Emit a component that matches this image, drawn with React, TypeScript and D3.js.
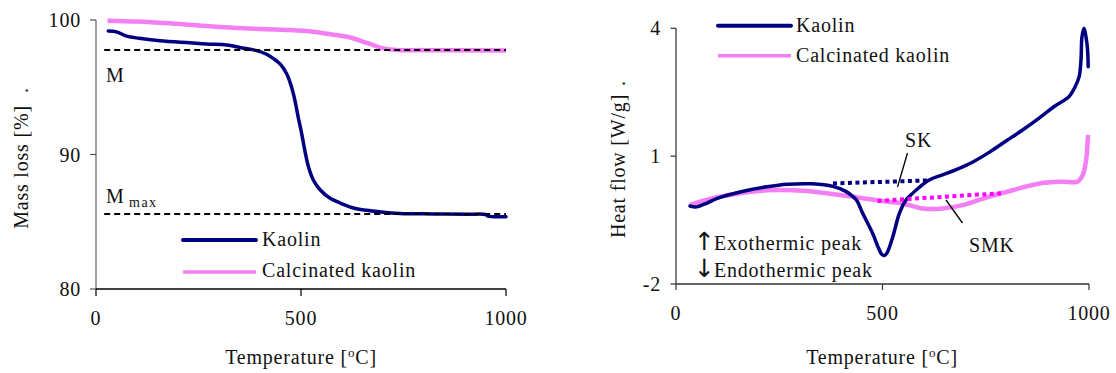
import React from 'react';
import * as d3 from 'd3';

// ---- ticks ----
const xTicks = [0, 500, 1000];
const massTicks = [80, 90, 100];
const heatTicks = [-2, 1, 4];

// ---- TGA (left) ----
const tgaKaolinTemp = [30, 50, 75, 105, 156, 229, 270, 319, 351, 392, 416, 432, 450, 465, 475, 485, 493, 502, 510, 518, 530, 546, 571, 603, 628, 660, 701, 741, 823, 904, 950, 956, 1000];
const tgaKaolinMass = [99.18, 99.12, 98.8, 98.64, 98.46, 98.3, 98.21, 98.14, 97.95, 97.72, 97.45, 97.15, 96.7, 96.0, 95.2, 94.05, 92.8, 91.5, 90.2, 89.1, 88.1, 87.4, 86.74, 86.3, 86.02, 85.85, 85.7, 85.62, 85.58, 85.55, 85.54, 85.42, 85.38];

const tgaCalcTemp = [28, 100, 180, 205, 270, 359, 473, 530, 579, 620, 660, 676, 693, 733, 800, 1000];
const tgaCalcMass = [99.95, 99.88, 99.75, 99.7, 99.55, 99.38, 99.26, 99.13, 98.9, 98.7, 98.3, 98.14, 97.95, 97.77, 97.76, 97.73];

const massRefNames = ['M', 'Mmax'];
const massRefValues = [97.77, 85.58];

// ---- DSC (right) ----
const dscKaolinTemp = [34, 50, 75, 100, 155, 220, 270, 330, 380, 410, 425, 437, 452, 476, 490, 498, 505, 512, 525, 541, 557, 570, 581, 613, 645, 680, 720, 760, 800, 840, 880, 915, 952, 965, 976, 980.6, 983, 988, 992.7, 996.5, 998];
const dscKaolinHeat = [-0.17, -0.19, -0.1, 0.01, 0.16, 0.28, 0.34, 0.35, 0.29, 0.18, 0.08, -0.03, -0.34, -0.81, -1.15, -1.3, -1.33, -1.25, -0.89, -0.34, -0.03, 0.1, 0.2, 0.44, 0.56, 0.69, 0.87, 1.1, 1.36, 1.62, 1.9, 2.16, 2.4, 2.6, 2.86, 3.26, 3.8, 4.0, 3.8, 3.5, 3.1];

const dscCalcTemp = [34, 58, 98, 155, 220, 284, 340, 397, 440, 484, 516, 549, 597, 646, 694, 759, 815, 880, 936, 972, 985, 993, 997, 998];
const dscCalcHeat = [-0.15, -0.07, 0.03, 0.13, 0.2, 0.2, 0.16, 0.09, 0.03, -0.03, -0.07, -0.11, -0.23, -0.23, -0.15, 0.05, 0.2, 0.36, 0.4, 0.4, 0.56, 0.91, 1.38, 1.5];

const skTemp = [380, 610];
const skHeat = [0.36, 0.43];
const smkTemp = [488, 787];
const smkHeat = [-0.05, 0.13];

const seriesNames = ['Kaolin', 'Calcinated kaolin'];

const NAVY = '#000080';
const PINK = '#f47ef4';
const MAGENTA = '#ff00ff';
const FONT = "'Liberation Serif', 'Times New Roman', serif";

function TempTitle({ x, y, style }: { x: number; y: number; style: any }) {
  return (
    <text x={x} y={y} textAnchor="middle" {...style}>
      <tspan>Temperature [</tspan>
      <tspan dy={-7} fontSize={13}>o</tspan>
      <tspan dy={7}>C]</tspan>
    </text>
  );
}

export default function App() {
  const xL = d3.scaleLinear().domain([0, 1000]).range([96, 506]);
  const yL = d3.scaleLinear().domain([80, 100]).range([289, 20]);
  const xR = d3.scaleLinear().domain([0, 1000]).range([676, 1089]);
  const yR = d3.scaleLinear().domain([-2, 4]).range([284, 28.3]);

  const curve = d3.curveCatmullRom.alpha(0.5);
  const lineL = d3.line<[number, number]>().x(d => xL(d[0])).y(d => yL(d[1])).curve(curve);
  const lineR = d3.line<[number, number]>().x(d => xR(d[0])).y(d => yR(d[1])).curve(curve);
  const straightR = d3.line<[number, number]>().x(d => xR(d[0])).y(d => yR(d[1]));

  const zip = (a: number[], b: number[]) => a.map((v, i) => [v, b[i]] as [number, number]);

  const txt = { fontFamily: FONT, fontSize: 20, letterSpacing: 0.8, fill: '#111' } as const;
  const arrowStyle = { fontFamily: "'DejaVu Sans', sans-serif", fontSize: 25 } as const;

  return (
    <svg width={1116} height={373} style={{ position: 'absolute', left: 0, top: 0, background: '#fff' }}>
      {/* ================= LEFT: TGA ================= */}
      <g>
        <line x1={96} x2={96} y1={yL(100)} y2={yL(80)} stroke="#808080" strokeWidth={1.5} />
        <line x1={96} x2={xL(1000)} y1={yL(80)} y2={yL(80)} stroke="#000" strokeWidth={1.5} />
        {massTicks.map(t => (
          <g key={'ml' + t}>
            <line x1={90} x2={96} y1={yL(t)} y2={yL(t)} stroke="#555" strokeWidth={1.2} />
            <text x={81} y={yL(t) + 7} textAnchor="end" {...txt}>{t}</text>
          </g>
        ))}
        {xTicks.map(t => (
          <g key={'xl' + t}>
            <line x1={xL(t)} x2={xL(t)} y1={289} y2={296} stroke="#000" strokeWidth={1.2} />
            <text x={xL(t)} y={325} textAnchor="middle" {...txt}>{t}</text>
          </g>
        ))}
        <TempTitle x={301} y={364} style={txt} />
        <text transform="translate(28,167) rotate(-90)" textAnchor="middle" {...txt}>Mass loss [%]</text>
        <text transform="translate(28,90) rotate(-90)" textAnchor="middle" {...txt}>.</text>

        {/* data */}
        <path d={lineL(zip(tgaCalcTemp, tgaCalcMass)) || ''} fill="none" stroke={PINK} strokeWidth={4.5} strokeLinejoin="round" />
        <path d={lineL(zip(tgaKaolinTemp, tgaKaolinMass)) || ''} fill="none" stroke={NAVY} strokeWidth={3.5} strokeLinejoin="round" strokeLinecap="round" />

        {/* reference dashed lines */}
        {massRefValues.map((v, i) => (
          <line key={massRefNames[i]} x1={xL(20)} x2={xL(1000)} y1={yL(v)} y2={yL(v)} stroke="#000" strokeWidth={2} strokeDasharray="6,4" />
        ))}
        <text x={106} y={82} {...txt}>M</text>
        <text x={106} y={203} {...txt}>M</text>
        <text x={129} y={207} fontFamily={FONT} fontSize={14} letterSpacing={1.5} fill="#111">max</text>

        {/* legend */}
        <line x1={183} x2={256} y1={240} y2={240} stroke={NAVY} strokeWidth={4} strokeLinecap="round" />
        <text x={262} y={246} {...txt}>{seriesNames[0]}</text>
        <line x1={183} x2={256} y1={272} y2={272} stroke={PINK} strokeWidth={3.5} />
        <text x={262} y={277} {...txt}>{seriesNames[1]}</text>
      </g>

      {/* ================= RIGHT: DSC ================= */}
      <g>
        <line x1={676} x2={676} y1={yR(4)} y2={yR(-2)} stroke="#555" strokeWidth={1.5} />
        <line x1={676} x2={xR(1000)} y1={yR(-2)} y2={yR(-2)} stroke="#333" strokeWidth={1.5} />
        {heatTicks.map(t => (
          <g key={'hr' + t}>
            <line x1={670.5} x2={676} y1={yR(t)} y2={yR(t)} stroke="#333" strokeWidth={1.2} />
            <text x={661} y={yR(t) + 7} textAnchor="end" {...txt}>{t}</text>
          </g>
        ))}
        {xTicks.map(t => (
          <g key={'xr' + t}>
            <line x1={xR(t)} x2={xR(t)} y1={284} y2={290} stroke="#333" strokeWidth={1.2} />
            <text x={xR(t)} y={320} textAnchor="middle" {...txt}>{t}</text>
          </g>
        ))}
        <TempTitle x={882} y={364} style={txt} />
        <text transform="translate(625,166) rotate(-90)" textAnchor="middle" {...txt}>Heat flow [W/g]</text>
        <text transform="translate(625,83) rotate(-90)" textAnchor="middle" {...txt}>.</text>

        {/* data */}
        <path d={lineR(zip(dscCalcTemp, dscCalcHeat)) || ''} fill="none" stroke={PINK} strokeWidth={4.5} strokeLinejoin="round" />
        <path d={lineR(zip(dscKaolinTemp, dscKaolinHeat)) || ''} fill="none" stroke={NAVY} strokeWidth={3.5} strokeLinejoin="round" strokeLinecap="round" />

        {/* baselines */}
        <path d={straightR(zip(skTemp, skHeat)) || ''} stroke={NAVY} strokeWidth={4} strokeDasharray="4,3.5" fill="none" />
        <path d={straightR(zip(smkTemp, smkHeat)) || ''} stroke={MAGENTA} strokeWidth={4} strokeDasharray="4,3.5" fill="none" />

        {/* annotations */}
        <text x={905} y={147} {...txt}>SK</text>
        <line x1={907.5} y1={153} x2={897.5} y2={187} stroke="#000" strokeWidth={1.3} />
        <text x={969} y={252} {...txt}>SMK</text>
        <line x1={946} y1={200} x2={962.5} y2={223} stroke="#000" strokeWidth={1.3} />
        <text x={694} y={250} {...txt}>
          <tspan {...arrowStyle} letterSpacing={0}>↑</tspan>
          <tspan dx={-1}>Exothermic peak</tspan>
        </text>
        <text x={694} y={277} {...txt}>
          <tspan {...arrowStyle} letterSpacing={0}>↓</tspan>
          <tspan dx={-1}>Endothermic peak</tspan>
        </text>

        {/* legend */}
        <line x1={718} x2={791} y1={25.7} y2={25.7} stroke={NAVY} strokeWidth={4} strokeLinecap="round" />
        <text x={796} y={32} {...txt}>{seriesNames[0]}</text>
        <line x1={718} x2={791} y1={55.7} y2={55.7} stroke={PINK} strokeWidth={3.5} />
        <text x={796} y={62} {...txt}>{seriesNames[1]}</text>
      </g>
    </svg>
  );
}
